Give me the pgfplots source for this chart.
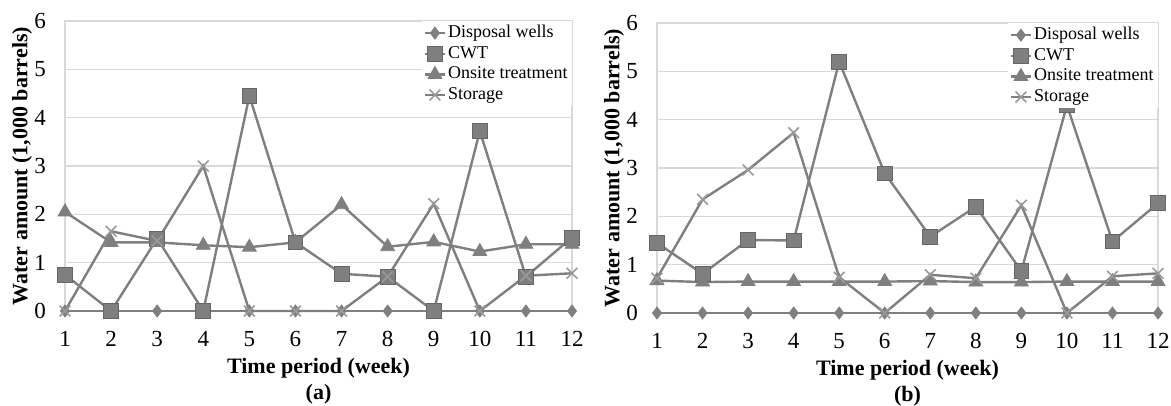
\documentclass[border=0pt]{standalone}
\usepackage{fontspec}
\setmainfont{Liberation Serif}
\usepackage{pgfplots}
\usepackage{pgfplotstable}
\pgfplotsset{compat=1.18}
\definecolor{ser}{HTML}{7F7F7F}
\definecolor{stc}{HTML}{9A9A9A}
\definecolor{grd}{HTML}{D9D9D9}

\pgfplotstableread{
x dw cwt on st
1 0 0.75 2.05 0
2 0 0 1.42 1.65
3 0 1.5 1.42 1.45
4 0 0 1.36 3.0
5 0 4.45 1.32 0
6 0 1.42 1.42 0
7 0 0.77 2.2 0
8 0 0.71 1.33 0.71
9 0 0 1.43 2.22
10 0 3.72 1.23 0
11 0 0.71 1.38 0.73
12 0 1.52 1.38 0.78
}\dataA

\pgfplotstableread{
x dw cwt on st
1 0 1.45 0.67 0.72
2 0 0.81 0.64 2.35
3 0 1.51 0.65 2.96
4 0 1.5 0.65 3.73
5 0 5.2 0.65 0.74
6 0 2.89 0.65 0
7 0 1.58 0.66 0.79
8 0 2.2 0.64 0.72
9 0 0.87 0.64 2.23
10 0 4.3 0.65 0
11 0 1.48 0.65 0.76
12 0 2.27 0.65 0.82
}\dataB

\pgfplotsset{
 panel/.style={
  scale only axis, height=145pt,
  xmin=1, xmax=12, ymin=0, ymax=6,
  xtick={1,...,12}, ytick={0,...,6},
  ymajorgrids, major grid style={grd, line width=0.7pt},
  axis line style={grd, line width=0.7pt},
  tick style={draw=none},
  tick label style={font=\fontsize{11.5}{13}\selectfont},
  /pgf/number format/assume math mode=true,
  xticklabel style={yshift=-6.5pt},
  yticklabel style={xshift=-6pt},
  xlabel style={at={(axis description cs:0.5,0)}, anchor=north, yshift=-23.5pt, inner sep=0pt, align=center, font=\fontsize{11}{13}\selectfont\bfseries},
  ylabel style={at={(axis description cs:0,0.5)}, anchor=center, rotate=0, yshift=21.5pt, inner sep=0pt, font=\fontsize{11}{13}\selectfont\bfseries},
  ylabel={Water amount (1,000 barrels)},
  legend style={at={(1,1)}, anchor=north east, draw=none, fill=white, font=\fontsize{9}{10}\selectfont, inner xsep=1pt, inner ysep=0pt, row sep=-1.2pt, legend cell align=left, nodes={inner xsep=1pt, inner ysep=2pt}},
  legend image code/.code={\draw[mark repeat=2,mark phase=2] plot coordinates {(0pt,0pt) (5pt,0pt) (10pt,0pt)};},
  clip=false,
 },
 dws/.style={ser, line width=1.2pt, mark=diamond*, mark size=3pt, mark options={solid, fill=ser, draw=ser, line width=0.4pt}},
 cwts/.style={ser, line width=1.2pt, mark=square*, mark size=3.7pt, mark options={solid, fill=ser, draw=ser!80!black, line width=0.4pt}},
 ons/.style={ser, line width=1.2pt, mark=triangle*, mark size=4pt, mark options={solid, fill=ser, draw=ser, line width=0.4pt}},
 sts/.style={ser, line width=1.2pt, mark=x, mark size=3.8pt, mark options={solid, draw=stc, line width=0.8pt}},
}

\begin{document}
\begin{tikzpicture}
\path[use as bounding box] (0,0) rectangle (585.5pt,203pt);
\begin{axis}[panel, width=253.5pt, at={(32.5pt,47.5pt)}, anchor=south west,
  xlabel={Time period (week)\\(a)}]
\addplot[dws] table[x=x,y=dw] {\dataA};
\addlegendentry{Disposal wells}
\addplot[cwts] table[x=x,y=cwt] {\dataA};
\addlegendentry{CWT}
\addplot[ons] table[x=x,y=on] {\dataA};
\addlegendentry{Onsite treatment}
\addplot[sts] table[x=x,y=st] {\dataA};
\addlegendentry{Storage}
\end{axis}
\begin{axis}[panel, width=250.5pt, at={(328.5pt,46.5pt)}, anchor=south west,
  xlabel={Time period (week)\\(b)}]
\addplot[dws] table[x=x,y=dw] {\dataB};
\addlegendentry{Disposal wells}
\addplot[cwts] table[x=x,y=cwt] {\dataB};
\addlegendentry{CWT}
\addplot[ons] table[x=x,y=on] {\dataB};
\addlegendentry{Onsite treatment}
\addplot[sts] table[x=x,y=st] {\dataB};
\addlegendentry{Storage}
\end{axis}
\end{tikzpicture}
\end{document}
